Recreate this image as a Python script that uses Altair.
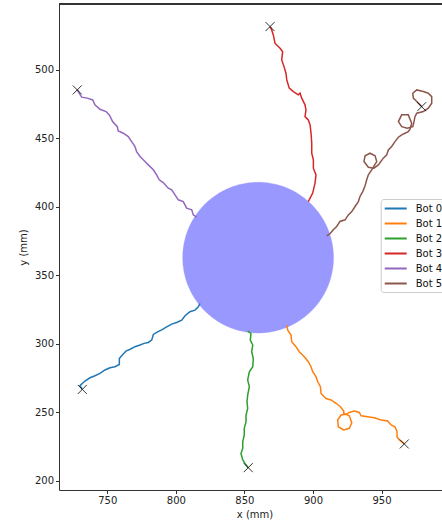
import numpy as np
import pandas as pd
import altair as alt

# Trajectories of each bot (mm), ordered from the obstacle edge outward;
# the last sample is the final position.
bot0_x = [817.6, 816.4, 814.0, 810.3, 806.7, 804.3, 800.6, 797.0, 793.3, 789.7, 786.0, 783.6,
          782.4, 779.9, 776.8, 773.9, 770.2, 767.1, 763.6, 760.5, 758.8, 758.8, 755.6, 752.0,
          748.3, 744.7, 741.0, 737.4, 733.7, 730.1, 731.8]
bot0_y = [329.5, 327.1, 324.7, 323.5, 320.6, 317.4, 315.7, 314.5, 312.5, 310.2, 308.4, 306.9,
          302.8, 301.1, 300.4, 299.2, 298.0, 296.3, 294.8, 291.4, 289.4, 285.0, 283.4, 282.6,
          281.0, 278.5, 276.8, 275.3, 272.9, 269.5, 266.8]

bot1_x = [880.9, 881.6, 884.0, 884.5, 887.6, 890.0, 893.7, 896.6, 898.6, 899.8, 902.2, 903.5,
          905.4, 905.9, 909.5, 913.2, 916.8, 920.0, 922.4, 922.4, 926.5, 928.3, 926.5, 922.4,
          918.5, 918.0, 920.5, 924.1, 926.5, 930.2, 933.8, 935.1, 939.9, 944.8, 949.6, 954.5,
          956.9, 959.8, 961.3, 961.3, 963.0, 966.2, 966.6]
bot1_y = [313.8, 310.1, 306.5, 301.6, 298.0, 294.3, 290.7, 287.0, 283.4, 279.7, 276.1, 272.4,
          268.8, 263.9, 260.2, 259.1, 256.7, 254.2, 251.1, 249.4, 247.6, 242.5, 238.4, 237.2,
          239.6, 244.5, 248.1, 248.6, 250.0, 251.1, 250.0, 247.6, 246.9, 246.1, 244.5, 243.8,
          240.9, 239.6, 235.9, 232.3, 229.9, 227.4, 227.0]

bot2_x = [852.4, 854.8, 854.3, 856.1, 855.3, 856.5, 856.1, 853.6, 852.4, 853.6, 852.4, 851.9,
          852.4, 851.2, 851.2, 849.9, 849.9, 848.8, 848.8, 847.5, 848.8, 850.4, 852.8]
bot2_y = [309.4, 307.7, 302.8, 299.2, 294.3, 289.4, 283.4, 279.7, 273.7, 268.8, 262.7, 257.8,
          252.9, 248.1, 243.3, 238.4, 233.5, 228.7, 223.8, 220.1, 215.3, 212.8, 209.7]

bot3_x = [896.6, 899.8, 901.5, 902.2, 900.3, 900.3, 899.1, 899.1, 898.6, 897.9, 896.6, 894.2,
          894.9, 894.2, 891.8, 890.6, 889.3, 885.7, 882.7, 880.9, 880.3, 878.9, 877.2, 877.9,
          876.0, 872.3, 871.1, 869.9, 868.7]
bot3_y = [403.9, 410.1, 417.4, 423.4, 428.3, 434.4, 439.2, 446.5, 453.8, 459.9, 463.5, 465.9,
          470.8, 474.5, 479.4, 483.0, 481.8, 484.2, 486.7, 492.7, 497.6, 502.4, 507.3, 513.3,
          515.8, 519.5, 525.5, 529.2, 531.6]

bot4_x = [815.2, 812.7, 811.6, 807.9, 805.4, 801.8, 799.4, 797.0, 794.5, 790.8, 787.9, 786.0,
          783.6, 779.9, 777.5, 773.9, 771.4, 770.2, 767.8, 765.3, 761.7, 758.0, 757.3, 753.9,
          751.5, 749.1, 744.7, 741.0, 739.4, 735.4, 731.3, 728.1]
bot4_y = [392.6, 394.2, 397.9, 399.1, 403.9, 405.2, 408.8, 412.5, 413.7, 417.8, 419.8, 423.4,
          427.1, 430.7, 433.1, 436.8, 440.4, 444.1, 447.7, 451.3, 453.8, 455.5, 458.6, 462.3,
          467.2, 469.6, 471.3, 474.5, 478.1, 479.4, 480.1, 485.4]

bot5_x = [910.0, 912.4, 914.8, 917.3, 919.7, 923.4, 925.8, 928.3, 930.7, 933.1, 934.3, 936.3,
          938.0, 939.2, 940.4, 942.8, 944.0, 946.5, 945.3, 941.6, 938.0, 937.2, 940.4, 944.5,
          947.7, 949.0, 951.3, 953.8, 955.0, 957.4, 959.8, 962.3, 964.7, 967.1, 969.5, 970.8,
          972.0, 969.5, 964.7, 962.3, 964.7, 968.8, 972.8, 973.7, 974.4, 975.7, 980.5, 984.1,
          986.6, 986.6, 984.1, 980.5, 975.7, 972.8, 973.2, 975.7, 979.3]
bot5_y = [378.9, 380.4, 383.3, 385.7, 389.4, 390.6, 394.2, 396.6, 400.3, 403.9, 407.6, 411.2,
          415.4, 419.8, 423.4, 427.1, 429.0, 433.1, 437.3, 439.2, 437.3, 433.1, 429.0, 428.3,
          430.7, 432.4, 435.6, 438.0, 441.6, 444.1, 447.7, 450.9, 452.6, 453.8, 455.0, 456.7,
          461.1, 467.2, 467.2, 462.3, 458.6, 457.5, 458.6, 462.3, 465.9, 468.4, 469.6, 472.1,
          475.7, 480.5, 483.0, 484.2, 485.4, 483.0, 479.4, 476.9, 473.2]

bot_names = ["Bot 0", "Bot 1", "Bot 2", "Bot 3", "Bot 4", "Bot 5"]
bot_colors = ["#1f77b4", "#ff7f0e", "#2ca02c", "#d62728", "#9467bd", "#8c564b"]

# Circular obstacle (mm)
obstacle_center = (860.0, 363.0)
obstacle_radius = 55.0

x_ticks = [750, 800, 850, 900, 950]
y_ticks = [200, 250, 300, 350, 400, 450, 500]

paths = [(bot0_x, bot0_y), (bot1_x, bot1_y), (bot2_x, bot2_y),
         (bot3_x, bot3_y), (bot4_x, bot4_y), (bot5_x, bot5_y)]

rows = []
ends = []
for name, (xs, ys) in zip(bot_names, paths):
    for i, (xv, yv) in enumerate(zip(xs, ys)):
        rows.append({"bot": name, "i": i, "x": xv, "y": yv})
    ends.append({"bot": name, "x": xs[-1], "y": ys[-1]})
traj = pd.DataFrame(rows)
finals = pd.DataFrame(ends)

# Outline of the obstacle as upper/lower halves over x
t = np.linspace(np.pi, 0, 181)
cx, cy = obstacle_center
circle = pd.DataFrame({
    "x": cx + obstacle_radius * np.cos(t),
    "y_lo": cy - obstacle_radius * np.sin(t),
    "y_hi": cy + obstacle_radius * np.sin(t),
})

FONT = "DejaVu Sans"
PLOT_W, PLOT_H = 383, 486
xscale = alt.Scale(domain=[714.8, 994.1], nice=False, zero=False)
yscale = alt.Scale(domain=[193.4, 548.1], nice=False, zero=False)

xaxis = alt.Axis(values=x_ticks, title="x (mm)", grid=False, format="d",
                 tickSize=3.5, tickColor="#333", domainColor="#333",
                 labelFont=FONT, labelFontSize=10, labelColor="#222", labelPadding=2,
                 titleFont=FONT, titleFontSize=10, titleFontWeight="normal",
                 titleColor="#222", titlePadding=4, titleX=195.5)
yaxis = alt.Axis(values=y_ticks, title="y (mm)", grid=False, format="d",
                 tickSize=3.5, tickColor="#333", domainColor="#333",
                 labelFont=FONT, labelFontSize=10, labelColor="#222", labelPadding=2,
                 titleFont=FONT, titleFontSize=10, titleFontWeight="normal",
                 titleColor="#222", titlePadding=6)

obstacle = alt.Chart(circle).mark_area(
    color="blue", opacity=0.4, stroke="blue", strokeWidth=1, strokeOpacity=0.3
).encode(
    x=alt.X("x:Q", scale=xscale, axis=xaxis),
    y=alt.Y("y_lo:Q", scale=yscale, axis=yaxis),
    y2="y_hi:Q",
)

lines = alt.Chart(traj).mark_line(strokeWidth=1.5).encode(
    x=alt.X("x:Q", scale=xscale, axis=xaxis),
    y=alt.Y("y:Q", scale=yscale, axis=yaxis),
    color=alt.Color(
        "bot:N",
        scale=alt.Scale(domain=bot_names, range=bot_colors),
        legend=alt.Legend(
            title=None, orient="none", legendX=321.7, legendY=195,
            symbolType="M-1,0H3", symbolSize=121, symbolStrokeWidth=2,
            labelOffset=19, labelFont=FONT, labelFontSize=10, labelColor="#111",
            padding=3, rowPadding=3.0, strokeColor="#cccccc", fillColor="white",
            cornerRadius=3,
        ),
    ),
    order=alt.Order("i:Q"),
    detail="bot:N",
)

markers = alt.Chart(finals).mark_point(
    shape="M-1,-1L1,1M-1,1L1,-1", size=81, filled=False,
    stroke="black", strokeWidth=1, opacity=0.8,
).encode(
    x=alt.X("x:Q", scale=xscale, axis=xaxis),
    y=alt.Y("y:Q", scale=yscale, axis=yaxis),
)

# Top spine of the axes frame
top_spine = alt.Chart(finals).mark_rule(color="#333", strokeWidth=1).encode(
    x=alt.value(0), x2=alt.value(PLOT_W), y=alt.value(0)
)

chart = alt.layer(obstacle, lines, markers, top_spine).properties(
    width=PLOT_W, height=PLOT_H,
    autosize=alt.AutoSizeParams(type="none"),
    padding={"left": 59, "top": 4, "right": 0, "bottom": 34},
).configure_view(strokeWidth=0)

chart.save("out.html", embed_options={"renderer": "svg", "actions": False})
